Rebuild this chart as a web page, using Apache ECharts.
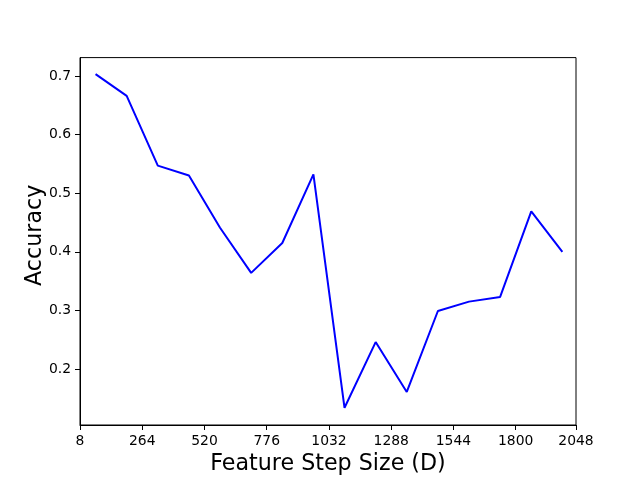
<!DOCTYPE html>
<html>
<head>
<meta charset="utf-8">
<script src="https://cdn.jsdelivr.net/npm/echarts@6/dist/echarts.min.js"></script>
<style>
  html, body { margin: 0; padding: 0; background: #fff; }
  #chart { width: 640px; height: 480px; }
</style>
</head>
<body>
<div id="chart"></div>
<script>
// step sizes (x) and accuracy (y)
const steps = [72, 200, 328, 456, 584, 712, 840, 968, 1096, 1224, 1352, 1480, 1608, 1736, 1864, 1992];
const accuracy = [0.703, 0.666, 0.547, 0.530, 0.441, 0.364, 0.415, 0.532, 0.134, 0.246, 0.161, 0.299, 0.315, 0.323, 0.469, 0.400];
const xTicks = [8, 264, 520, 776, 1032, 1288, 1544, 1800, 2048];
const yTicks = [0.2, 0.3, 0.4, 0.5, 0.6, 0.7];

const font = 'DejaVu Sans';
const chart = echarts.init(document.getElementById('chart'));

chart.setOption({
  animation: false,
  backgroundColor: '#fff',
  grid: {
    left: 80,
    right: 64,
    top: 57.6,
    bottom: 52.7,
    show: true,
    borderColor: '#000',
    borderWidth: 1
  },
  xAxis: {
    type: 'value',
    min: 8,
    max: 2048,
    name: 'Feature Step Size (D)',
    nameLocation: 'middle',
    nameGap: 28,
    nameTextStyle: { fontFamily: font, fontSize: 22.2, color: '#000' },
    axisLine: { lineStyle: { color: '#000', width: 1 } },
    axisTick: { length: 5, lineStyle: { color: '#000', width: 1 }, customValues: xTicks },
    axisLabel: {
      margin: 9, fontFamily: font, fontSize: 13.9, color: '#000',
      customValues: xTicks,
      formatter: v => String(v)
    },
    splitLine: { show: false }
  },
  yAxis: {
    type: 'value',
    min: 0.1046,
    max: 0.7312,
    name: 'Accuracy',
    nameLocation: 'middle',
    nameGap: 34,
    nameMoveOverlap: false,
    nameTextStyle: { fontFamily: font, fontSize: 22.2, color: '#000', padding: [0, 0, 0, 12] },
    axisLine: { show: true, lineStyle: { color: '#000', width: 1 } },
    axisTick: { show: true, length: 5, lineStyle: { color: '#000', width: 1 }, customValues: yTicks },
    axisLabel: {
      margin: 9, fontFamily: font, fontSize: 13.9, color: '#000',
      customValues: yTicks,
      formatter: v => v.toFixed(1)
    },
    splitLine: { show: false }
  },
  series: [
    {
      type: 'line',
      data: steps.map((s, i) => [s, accuracy[i]]),
      showSymbol: false,
      lineStyle: { color: '#0000ff', width: 2 },
      itemStyle: { color: '#0000ff' }
    }
  ]
});
</script>
</body>
</html>
